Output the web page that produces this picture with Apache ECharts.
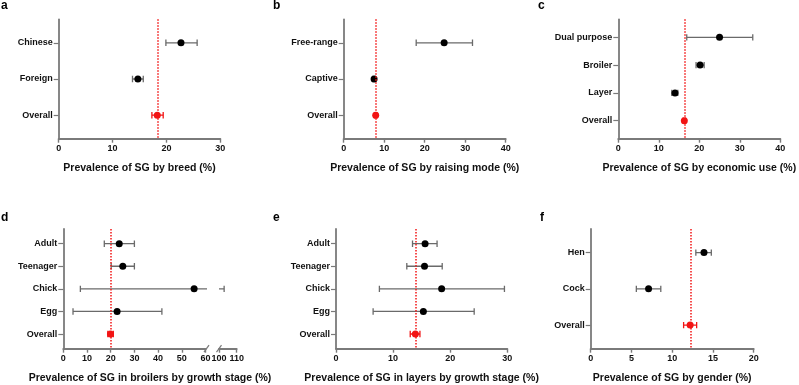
<!DOCTYPE html>
<html><head><meta charset="utf-8">
<script src="https://cdn.jsdelivr.net/npm/echarts@6/dist/echarts.min.js"></script>
<style>html,body{margin:0;padding:0;background:#fff}#c{width:799px;height:385px}</style>
</head><body><div id="c"></div>
<script>
// ---------- data ----------
const aCats = ['Chinese', 'Foreign', 'Overall'];
const aMean = [22.7, 14.7, 18.3];
const aLow  = [19.9, 13.7, 17.3];
const aHigh = [25.7, 15.7, 19.4];
const aRef  = 18.3;

const bCats = ['Free-range', 'Captive', 'Overall'];
const bMean = [24.8, 7.5, 7.9];
const bLow  = [17.9, 7.2, 7.6];
const bHigh = [31.8, 7.8, 8.2];
const bRef  = 7.9;

const cCats = ['Dual purpose', 'Broiler', 'Layer', 'Overall'];
const cMean = [25.0, 20.2, 14.0, 16.3];
const cLow  = [16.9, 19.2, 13.2, 16.0];
const cHigh = [33.2, 21.2, 14.7, 16.6];
const cRef  = 16.3;

const dCats = ['Adult', 'Teenager', 'Chick', 'Egg', 'Overall'];
const dMean = [23.6, 25.1, 55.2, 22.7, 19.9];
const dLow  = [17.3, 20.2, 7.2, 4.1, 18.8];
const dHigh = [30.0, 30.0, 102.9, 41.6, 21.1];
const dRef  = 20;

const eCats = ['Adult', 'Teenager', 'Chick', 'Egg', 'Overall'];
const eMean = [15.6, 15.5, 18.5, 15.3, 13.9];
const eLow  = [13.4, 12.4, 7.6, 6.5, 13.0];
const eHigh = [17.7, 18.6, 29.5, 24.2, 14.7];
const eRef  = 13.9;

const fCats = ['Hen', 'Cock', 'Overall'];
const fMean = [13.9, 7.1, 12.2];
const fLow  = [12.9, 5.6, 11.4];
const fHigh = [14.8, 8.6, 13.0];
const fRef  = 12.3;

const names = {
  a: 'Prevalence of SG by breed (%)',
  b: 'Prevalence of SG by raising mode (%)',
  c: 'Prevalence of SG by economic use (%)',
  d: 'Prevalence of SG in broilers by growth stage (%)',
  e: 'Prevalence of SG in layers by growth stage (%)',
  f: 'Prevalence of SG by gender (%)'
};

// ---------- style ----------
const FONT = '"Liberation Sans", Arial, Helvetica, sans-serif';
const RED = '#f21414';
const GRAY = '#7a7a7a';
const BARGRAY = '#6a6a6a';
const BLACK = '#111';

const grids = [], xAxes = [], yAxes = [], series = [];

function addPanel(p) {
  const gi = grids.length;
  const n = p.cats.length;
  const idx = p.cats.map((c, k) => k);
  grids.push({ left: p.left, top: p.top, width: p.width, height: p.height, containLabel: false });
  xAxes.push({
    gridIndex: gi, type: 'value', min: p.min, max: p.max, interval: p.interval,
    axisLine: { show: true, onZero: false, lineStyle: { color: GRAY, width: 1.8 } },
    axisTick: { show: true, length: 4, lineStyle: { color: GRAY, width: 1.4 } },
    axisLabel: { color: BLACK, fontWeight: 'bold', fontSize: 9, fontFamily: FONT, margin: 5 },
    splitLine: { show: false },
    name: p.name || '', nameLocation: 'middle', nameGap: 24,
    nameTextStyle: { color: BLACK, fontWeight: 'bold', fontSize: 10.5, fontFamily: FONT }
  });
  yAxes.push({
    gridIndex: gi, type: 'value', inverse: true, min: -0.65, max: n - 1 + 0.65,
    axisLine: { show: p.showY !== false, onZero: false, lineStyle: { color: GRAY, width: 1.8 } },
    axisTick: { show: p.showY !== false, length: 5, customValues: idx, lineStyle: { color: GRAY, width: 1.2 } },
    axisLabel: { show: p.showY !== false, customValues: idx, formatter: v => p.cats[Math.round(v)],
      color: BLACK, fontWeight: 'bold', fontSize: 9, fontFamily: FONT, margin: 6 },
    splitLine: { show: false }
  });
  series.push({
    type: 'custom', xAxisIndex: gi, yAxisIndex: gi, clip: true, z: 2,
    data: p.cats.map((c, k) => [p.low[k], p.high[k], k]),
    encode: { x: [0, 1], y: 2 },
    renderItem: (params, api) => {
      const k = api.value(2);
      const a = api.coord([api.value(0), k]);
      const b = api.coord([api.value(1), k]);
      const col = k === n - 1 ? RED : BARGRAY;
      const h = 3.2;
      const st = { stroke: col, lineWidth: 1.3 };
      return { type: 'group', children: [
        { type: 'line', shape: { x1: a[0], y1: a[1], x2: b[0], y2: b[1] }, style: st },
        { type: 'line', shape: { x1: a[0], y1: a[1] - h, x2: a[0], y2: a[1] + h }, style: st },
        { type: 'line', shape: { x1: b[0], y1: b[1] - h, x2: b[0], y2: b[1] + h }, style: st }
      ] };
    }
  });
  if (p.mean) {
    series.push({
      type: 'scatter', xAxisIndex: gi, yAxisIndex: gi, symbolSize: 7, z: 3,
      itemStyle: { opacity: 1 },
      data: p.cats.map((c, k) => ({ value: [p.mean[k], k], itemStyle: { color: k === n - 1 ? RED : '#000', opacity: 1 } })),
      markLine: {
        silent: true, symbol: ['none', 'none'], label: { show: false },
        lineStyle: { color: RED, type: 'dotted', width: 1.5 },
        data: [{ xAxis: p.ref }]
      }
    });
  }
  return gi;
}

const TOP1 = 19.3, H1 = 119.4, TOP2 = 229, H2 = 119.7;
addPanel({ cats: aCats, mean: aMean, low: aLow, high: aHigh, ref: aRef, left: 58.7, top: TOP1, width: 161.6, height: H1, min: 0, max: 30, interval: 10, name: names.a });
addPanel({ cats: bCats, mean: bMean, low: bLow, high: bHigh, ref: bRef, left: 343.7, top: TOP1, width: 162, height: H1, min: 0, max: 40, interval: 10, name: names.b });
addPanel({ cats: cCats, mean: cMean, low: cLow, high: cHigh, ref: cRef, left: 618.3, top: TOP1, width: 162, height: H1, min: 0, max: 40, interval: 10, name: names.c });
const d1 = addPanel({ cats: dCats, mean: dMean, low: dLow, high: dHigh, ref: dRef, left: 63.3, top: TOP2, width: 142.2, height: H2, min: 0, max: 60, interval: 10 });
const d2 = addPanel({ cats: dCats, low: dLow, high: dHigh, left: 219, top: TOP2, width: 17.7, height: H2, min: 100, max: 110, interval: 10, showY: false });
addPanel({ cats: eCats, mean: eMean, low: eLow, high: eHigh, ref: eRef, left: 336, top: TOP2, width: 171.3, height: H2, min: 0, max: 30, interval: 10, name: names.e });
addPanel({ cats: fCats, mean: fMean, low: fLow, high: fHigh, ref: fRef, left: 590.7, top: TOP2, width: 163, height: H2, min: 0, max: 20, interval: 5, name: names.f });

const chart = echarts.init(document.getElementById('c'), null, { renderer: 'canvas' });
chart.setOption({
  animation: false,
  backgroundColor: '#fff',
  grid: grids, xAxis: xAxes, yAxis: yAxes, series: series
});

// decorations: panel letters, axis break marks, panel d axis name
const letterStyle = { fill: '#000', font: 'bold 12px ' + FONT, textVerticalAlign: 'middle' };
const letters = [['a', 1, 6], ['b', 273, 6], ['c', 538, 6], ['d', 1, 218], ['e', 273, 218], ['f', 540, 218]];
const gfx = letters.map(l => ({ type: 'text', x: l[1], y: l[2], style: Object.assign({ text: l[0] }, letterStyle) }));

const xEnd = chart.convertToPixel({ xAxisIndex: d1 }, 60);
const xStart = chart.convertToPixel({ xAxisIndex: d2 }, 100);
const xLast = chart.convertToPixel({ xAxisIndex: d2 }, 110);
const x0 = chart.convertToPixel({ xAxisIndex: d1 }, 0);
const yAx = chart.convertToPixel({ yAxisIndex: d1 }, dCats.length - 1 + 0.65);
[xEnd + 1, xStart].forEach(x => {
  gfx.push({ type: 'line', shape: { x1: x - 2.5, y1: yAx + 3.5, x2: x + 2.5, y2: yAx - 3.5 }, style: { stroke: GRAY, lineWidth: 1.2 } });
});
gfx.push({ type: 'text', x: (x0 + xLast) / 2, y: yAx + 24,
  style: { text: names.d, fill: BLACK, font: 'bold 10.5px ' + FONT, textAlign: 'center', textVerticalAlign: 'top' } });
chart.setOption({ graphic: gfx });
</script>
</body></html>
